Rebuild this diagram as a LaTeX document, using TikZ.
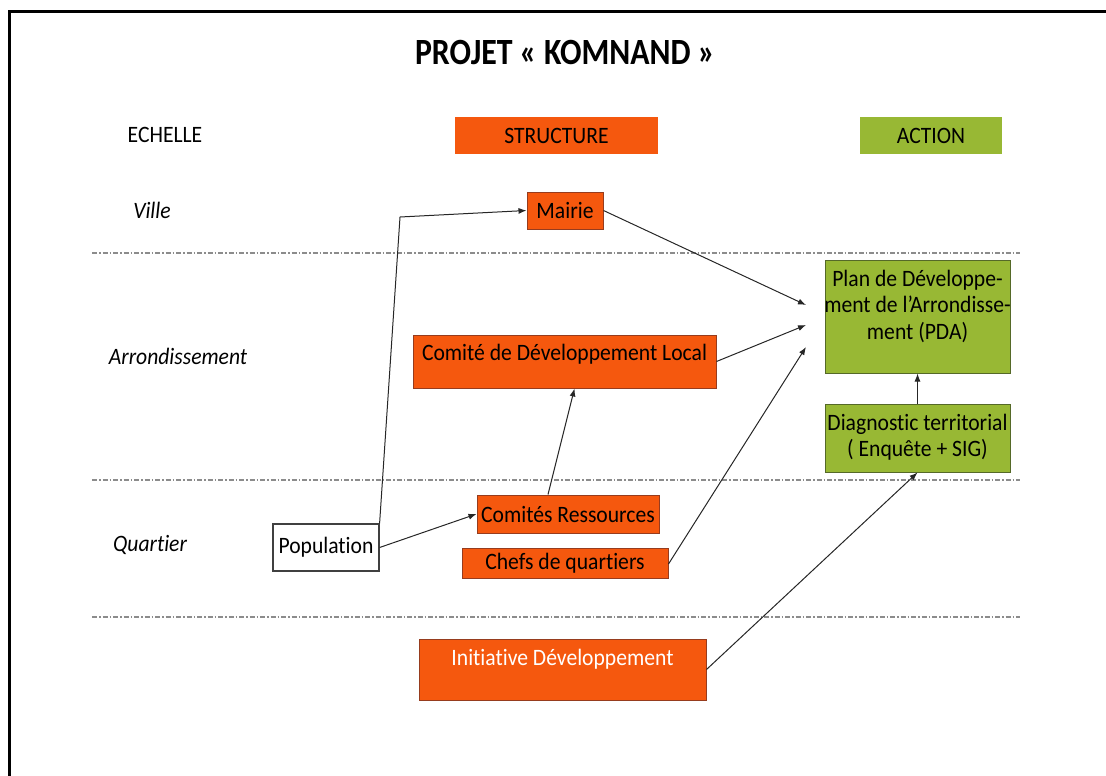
\documentclass[tikz,border=0pt]{standalone}
\usepackage{fontspec}
\setmainfont{Carlito}[Ligatures={NoCommon}, FakeStretch=0.92]
\newfontfamily\titlefont{Carlito}[Ligatures={NoCommon}, FakeStretch=0.86]
\usetikzlibrary{arrows.meta}
\definecolor{orng}{RGB}{245,88,14}
\definecolor{orngdk}{RGB}{150,60,30}
\definecolor{olive}{RGB}{152,184,52}
\definecolor{olivedk}{RGB}{85,105,40}
\definecolor{sepgray}{RGB}{140,140,140}
\newcommand{\bodysize}{\fontsize{23.5}{26.5}\selectfont}
\tikzset{
  txt/.style={font=\bodysize, inner sep=0pt},
  itl/.style={font=\bodysize\itshape, inner sep=0pt},
  obox/.style={draw=orngdk, line width=1pt, fill=orng, inner sep=0pt, font=\bodysize},
  gbox/.style={draw=olivedk, line width=1pt, fill=olive, inner sep=0pt, font=\bodysize},
  hbox/.style={inner sep=0pt, font=\bodysize},
  wbox/.style={draw=black!75, line width=1.2pt, fill=white, inner sep=0pt, font=\bodysize},
  sep/.style={draw=sepgray, line width=1.2pt, dash pattern=on 5pt off 2pt on 1.5pt off 2pt},
  conn/.style={draw=black!85, line width=1pt, -{Latex[length=8pt,width=6pt]}}
}
\begin{document}
\begin{tikzpicture}[x=1pt,y=-1pt]
\useasboundingbox (0,0) rectangle (1106,776);
% frame
\draw[line width=3pt] (9,778) -- (9,12) -- (1108,12);
% title
\node[font=\fontsize{37}{42}\selectfont\titlefont\bfseries, inner sep=0pt] (title) at (565,52) {PROJET « KOMNAND »};
% headers
\node[txt] (echelle) at (165,135) {ECHELLE};
\node[hbox, fill=orng, minimum width=203pt, minimum height=37pt] (structure) at (556.5,135.5) {STRUCTURE};
\node[hbox, fill=olive, minimum width=142pt, minimum height=37pt] (action) at (931,135.5) {ACTION};
% scale labels
\node[itl] (ville) at (152,210) {Ville};
\node[itl] (arr) at (178,356) {Arrondissement};
\node[itl] (quartier) at (150,545) {Quartier};
% separators
\draw[sep] (92,253) -- (1020,253);
\draw[sep] (92,480) -- (1020,480);
\draw[sep] (92,617) -- (1020,617);
% structure boxes
\node[obox, minimum width=76pt, minimum height=37pt] (mairie) at (565,210.5) {Mairie};
\node[obox, minimum width=303pt, minimum height=53pt] (cdl) at (564.5,361.5) {};
\node[txt] (cdltxt) at (564.5,354) {Comité de Développement Local};
\node[obox, minimum width=182pt, minimum height=38pt] (cr) at (568,514) {Comités Ressources};
\node[obox, minimum width=206pt, minimum height=30pt] (chefs) at (565,563) {Chefs de quartiers};
\node[obox, minimum width=287pt, minimum height=61pt] (init) at (562.5,669.5) {};
\node[txt, text=white] (inittxt) at (562.5,659) {Initiative Développement};
\node[wbox, minimum width=106pt, minimum height=47pt] (pop) at (326,547.5) {Population};
% action boxes
\node[gbox, minimum width=185pt, minimum height=113pt] (pda) at (917.5,316.5) {};
\node[txt, align=center] (pdatxt) at (917.5,306) {Plan de Développe-\\ment de l’Arrondisse-\\ment (PDA)};
\node[gbox, minimum width=185pt, minimum height=68pt] (diag) at (917.5,438) {};
\node[txt, align=center] (diagtxt) at (917.5,437) {Diagnostic territorial\\( Enquête + SIG)};
% arrow end points
\coordinate (pA) at (806,305);
\coordinate (pB) at (806,325);
\coordinate (pC) at (806,347);
\coordinate (bend) at (400,217);
% connectors
\draw[conn] (pop.north east) -- (bend) -- (mairie.west);
\draw[conn] (pop.east) -- (cr.west);
\draw[conn] ([xshift=-20pt]cr.north) -- ([xshift=10pt]cdl.south);
\draw[conn] (mairie.east) -- (pA);
\draw[conn] (cdl.east) -- (pB);
\draw[conn] ([yshift=-1pt]chefs.east) -- (pC);
\draw[conn] (diag.north) -- (pda.south);
\draw[conn] (init.east) -- (diag.south);
\end{tikzpicture}
\end{document}
